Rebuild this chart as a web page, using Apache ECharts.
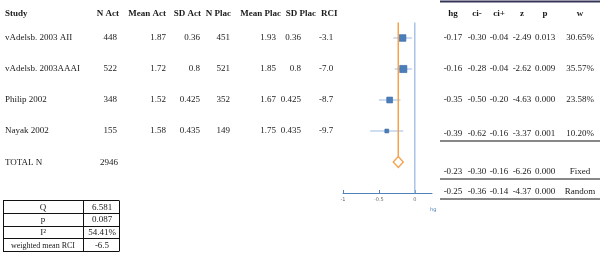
<!DOCTYPE html>
<html>
<head>
<meta charset="utf-8">
<script src="https://cdn.jsdelivr.net/npm/echarts@6/dist/echarts.min.js"></script>
<style>
  html, body { margin: 0; background: #fff; }
  #main { width: 600px; height: 253px; }
</style>
</head>
<body>
<div id="main"></div>
<script>
// study table
var studies = ["vAdelsb. 2003 AII", "vAdelsb. 2003AAAI", "Philip 2002", "Nayak 2002"];
var nAct = ["448", "522", "348", "155"];
var meanAct = ["1.87", "1.72", "1.52", "1.58"];
var sdAct = ["0.36", "0.8", "0.425", "0.435"];
var nPlac = ["451", "521", "352", "149"];
var meanPlac = ["1.93", "1.85", "1.67", "1.75"];
var sdPlac = ["0.36", "0.8", "0.425", "0.435"];
var rci = ["-3.1", "-7.0", "-8.7", "-9.7"];
var totalN = "2946";

// effect sizes
var hg = [-0.17, -0.16, -0.35, -0.39];
var ciLow = [-0.30, -0.28, -0.50, -0.62];
var ciHigh = [-0.04, -0.04, -0.20, -0.16];
var zVal = ["-2.49", "-2.62", "-4.63", "-3.37"];
var pVal = ["0.013", "0.009", "0.000", "0.001"];
var weights = [30.65, 35.57, 23.58, 10.20];

// pooled estimates
var pooledNames = ["Fixed", "Random"];
var pooledHg = [-0.23, -0.25];
var pooledLow = [-0.30, -0.36];
var pooledHigh = [-0.16, -0.14];
var pooledZ = ["-6.26", "-4.37"];
var pooledP = ["0.000", "0.000"];

// heterogeneity
var hetLabels = ["Q", "p", "I²", "weighted mean RCI"];
var hetValues = ["6.581", "0.087", "54.41%", "-6.5"];

var xTicks = [-1, -0.5, 0];

var FONT = "Liberation Serif";
var ink = "#1a1a1a";

function txt(s, x, y, align, opt) {
  opt = opt || {};
  return {
    type: "text", x: x, y: y, silent: true,
    style: {
      text: s, fill: opt.fill || ink, align: align, verticalAlign: "middle",
      font: (opt.bold ? "bold " : "") + (opt.size || 9) + "px '" + FONT + "'"
    }
  };
}
function hline(x1, x2, y, w, c) {
  return { type: "line", silent: true, shape: { x1: x1, y1: y, x2: x2, y2: y },
    style: { stroke: c || "#111", lineWidth: w || 1 } };
}
function vline(x, y1, y2) {
  return { type: "line", silent: true, shape: { x1: x, y1: y1, x2: x, y2: y2 },
    style: { stroke: "#111", lineWidth: 1 } };
}

var g = [];
// left table
var leftRows = [38, 69, 100, 131];
g.push(txt("Study", 5, 14, "left", { bold: true }));
g.push(txt("N Act", 119, 14, "right", { bold: true }));
g.push(txt("Mean Act", 166, 14, "right", { bold: true }));
g.push(txt("SD Act", 201, 14, "right", { bold: true }));
g.push(txt("N Plac", 231, 14, "right", { bold: true }));
g.push(txt("Mean Plac", 281, 14, "right", { bold: true }));
g.push(txt("SD Plac", 316, 14, "right", { bold: true }));
g.push(txt("RCI", 321, 14, "left", { bold: true }));
studies.forEach(function (s, i) {
  var y = leftRows[i];
  g.push(txt(s, 5, y, "left"));
  g.push(txt(nAct[i], 117, y, "right"));
  g.push(txt(meanAct[i], 166, y, "right"));
  g.push(txt(sdAct[i], 200, y, "right"));
  g.push(txt(nPlac[i], 230, y, "right"));
  g.push(txt(meanPlac[i], 276, y, "right"));
  g.push(txt(sdPlac[i], 301, y, "right"));
  g.push(txt(rci[i], 319, y, "left"));
});
g.push(txt("TOTAL N", 5, 163, "left"));
g.push(txt(totalN, 118, 163, "right"));

// right table
var colX = [453, 477, 499, 522, 545, 580];
var heads = ["hg", "ci-", "ci+", "z", "p", "w"];
g.push(hline(440, 600, 1.5, 2, "#353558"));
heads.forEach(function (h, k) { g.push(txt(h, colX[k], 14, "center", { bold: true })); });
var rightRows = [38, 69, 100, 134];
studies.forEach(function (s, i) {
  var vals = [hg[i].toFixed(2), ciLow[i].toFixed(2), ciHigh[i].toFixed(2), zVal[i], pVal[i], weights[i].toFixed(2) + "%"];
  vals.forEach(function (v, k) { g.push(txt(v, colX[k], rightRows[i], "center")); });
});
g.push(hline(440, 600, 141));
var pooledRows = [172, 192];
pooledNames.forEach(function (n, j) {
  var vals = [pooledHg[j].toFixed(2), pooledLow[j].toFixed(2), pooledHigh[j].toFixed(2), pooledZ[j], pooledP[j], n];
  vals.forEach(function (v, k) { g.push(txt(v, colX[k], pooledRows[j], "center")); });
});
g.push(hline(440, 600, 179));
g.push(hline(440, 600, 199));

// heterogeneity table
var hetTop = 200, hetRowH = 12.75, hetL = 3, hetMid = 83, hetR = 119;
for (var r = 0; r <= hetLabels.length; r++) g.push(hline(hetL, hetR, Math.round(hetTop + r * hetRowH) + 0.5));
g.push(vline(hetL + 0.5, hetTop + 0.5, Math.round(hetTop + hetLabels.length * hetRowH) + 0.5));
g.push(vline(hetMid + 0.5, hetTop + 0.5, Math.round(hetTop + hetLabels.length * hetRowH) + 0.5));
g.push(vline(hetR + 0.5, hetTop + 0.5, Math.round(hetTop + hetLabels.length * hetRowH) + 0.5));
hetLabels.forEach(function (l, i) {
  var y = hetTop + i * hetRowH + hetRowH / 2 + 1;
  g.push(txt(l, (hetL + hetMid) / 2, y, "center", { size: i === 3 ? 8 : 9 }));
  g.push(txt(hetValues[i], (hetMid + hetR) / 2 + 1, y, "center", { size: 9 }));
});

var chart = echarts.init(document.getElementById("main"), null, { renderer: "canvas" });

var studyData = studies.map(function (s, i) {
  return [i, hg[i], ciLow[i], ciHigh[i], weights[i]];
});

var option = {
  animation: false,
  backgroundColor: "#fff",
  grid: { left: 343, right: 168, top: 22.5, height: 170.5 },
  xAxis: {
    type: "value", min: -1, max: 0.24, position: "bottom",
    axisLine: { onZero: false, lineStyle: { color: "#4f81bd", width: 1 } },
    axisTick: { show: true, inside: true, length: 3, customValues: xTicks, lineStyle: { color: "#4f81bd" } },
    axisLabel: { customValues: xTicks, fontSize: 5, color: "#666", margin: 4, fontFamily: "DejaVu Sans" },
    splitLine: { show: false },
    name: "hg", nameLocation: "end", nameGap: -2,
    nameTextStyle: { fontSize: 5, color: "#4f81bd", verticalAlign: "top", padding: [14, 0, 0, 0], fontFamily: "DejaVu Sans" }
  },
  yAxis: { type: "value", min: -0.5, max: 5, inverse: true, show: false },
  graphic: g,
  series: [
    {
      type: "line", symbol: "none", silent: true,
      lineStyle: { color: "#a9c3e6", width: 1.5 },
      data: [[0, -0.5], [0, 5]]
    },
    {
      type: "line", symbol: "none", silent: true,
      lineStyle: { color: "#f5a04e", width: 1.5 },
      data: [[pooledHg[0], -0.5], [pooledHg[0], 3.82]]
    },
    {
      type: "custom", silent: true,
      data: studyData,
      renderItem: function (params, api) {
        var row = api.value(0);
        var c = api.coord([api.value(1), row]);
        var lo = api.coord([api.value(2), row]);
        var hi = api.coord([api.value(3), row]);
        var s = 12 * Math.sqrt(api.value(4) / 100);
        return {
          type: "group",
          children: [
            { type: "line", shape: { x1: lo[0], y1: c[1], x2: hi[0], y2: c[1] },
              style: { stroke: "#9dbbe3", lineWidth: 1 } },
            { type: "rect", shape: { x: c[0] - s / 2, y: c[1] - s / 2, width: s, height: s },
              style: { fill: "#4a7ebb", stroke: "#35649c", lineWidth: 0.6 } }
          ]
        };
      }
    },
    {
      type: "custom", silent: true,
      data: [[4, pooledHg[0], pooledLow[0], pooledHigh[0]]],
      renderItem: function (params, api) {
        var row = api.value(0);
        var c = api.coord([api.value(1), row]);
        var lo = api.coord([api.value(2), row]);
        var hi = api.coord([api.value(3), row]);
        var h = 5.5;
        return {
          type: "polygon",
          shape: { points: [[lo[0], c[1]], [c[0], c[1] - h], [hi[0], c[1]], [c[0], c[1] + h]] },
          style: { fill: "#fff", stroke: "#f5a04e", lineWidth: 1.3 }
        };
      }
    }
  ]
};

chart.setOption(option);
</script>
</body>
</html>
